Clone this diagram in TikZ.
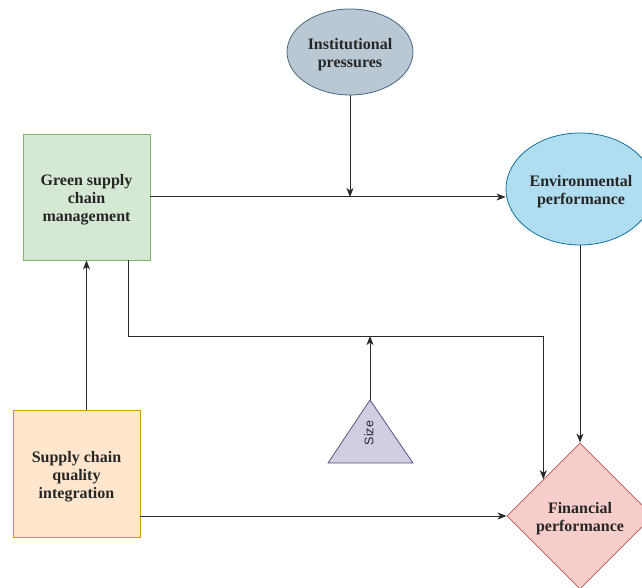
\documentclass[tikz,border=0pt]{standalone}
\usepackage{fontspec}
\setmainfont{Liberation Serif}
\setsansfont{Liberation Sans}
\usetikzlibrary{shapes.geometric,arrows.meta,calc}
\definecolor{instfill}{HTML}{BAC8D3}
\definecolor{instdraw}{HTML}{4A6580}
\definecolor{envfill}{HTML}{B1DDF0}
\definecolor{envdraw}{HTML}{10739E}
\definecolor{gfill}{HTML}{D5E8D4}
\definecolor{gdraw}{HTML}{82B366}
\definecolor{sfill}{HTML}{FFE6CC}
\definecolor{sdraw}{HTML}{D79B00}
\definecolor{ffill}{HTML}{F8CECC}
\definecolor{fdraw}{HTML}{B85450}
\definecolor{tfill}{HTML}{D0CEE2}
\definecolor{tdraw}{HTML}{56517E}
\definecolor{linec}{HTML}{2A2A2A}
\tikzset{
  lbl/.style={font=\fontsize{16}{18}\selectfont\bfseries, align=center, text=black!85},
  tip/.style={-{Stealth[length=9pt,width=7pt,inset=2.5pt]}},
  conn/.style={draw=linec, line width=1pt, tip},
  outl/.style={line width=0.8pt, inner sep=0pt},
}
\begin{document}
\begin{tikzpicture}[x=1pt,y=-1pt]
\useasboundingbox (0,0) rectangle (642,588);
% shapes
\node[ellipse, outl, fill=instfill, draw=instdraw, minimum width=126pt, minimum height=86pt] (inst) at (350,52) {};
\node[rectangle, outl, fill=gfill, draw=gdraw, minimum width=127pt, minimum height=126pt] (gscm) at (86.5,197) {};
\node[ellipse, outl, fill=envfill, draw=envdraw, minimum width=148pt, minimum height=112pt] (env) at (580,189) {};
\node[rectangle, outl, fill=sfill, draw=sdraw, minimum width=127pt, minimum height=127pt] (scqi) at (76.5,473.5) {};
\node[diamond, outl, fill=ffill, draw=fdraw, minimum width=146pt, minimum height=146pt] (fin) at (580,516) {};
% labels
\node[lbl] (instlbl) at ($(inst.center)+(0,3)$) {Institutional\\pressures};
\node[lbl] (gscmlbl) at ($(gscm.center)+(0,3)$) {Green supply\\chain\\management};
\node[lbl] (envlbl) at ($(env.center)+(1,3)$) {Environmental\\performance};
\node[lbl] (scqilbl) at ($(scqi.center)+(0,3)$) {Supply chain\\quality\\integration};
\node[lbl] (finlbl) at ($(fin.center)+(0,3)$) {Financial\\performance};
% Size triangle
\coordinate (sizetop) at (370,400);
\coordinate (sizebl) at (328,463);
\coordinate (sizebr) at (413,463);
\draw[fill=tfill, draw=tdraw, line width=0.8pt] (sizetop) -- (sizebr) -- (sizebl) -- cycle;
\node[font=\sffamily\fontsize{12.5}{14}\selectfont, rotate=90, text=black!85] (sizelbl) at (369,433) {Size};
% connectors
\draw[conn] (gscm.east) -- (gscm.east -| env.west);
\coordinate (instjoin) at (inst.south |- gscm.east);
\draw[conn] (inst.south) -- (instjoin);
\coordinate (g1) at ($(gscm.south)+(41.5,0)$);
\coordinate (bend) at (fin.north west |- 0,336);
\draw[conn] (g1) |- (bend) -- (fin.north west);
\coordinate (sizejoin) at (sizetop |- bend);
\draw[conn] (sizetop) -- (sizejoin);
\draw[conn] (env.south) -- (fin.north);
\draw[conn] (scqi.north -| gscm.south) -- (gscm.south);
\draw[conn] (scqi.east |- fin.west) -- (fin.west);
\end{tikzpicture}
\end{document}
